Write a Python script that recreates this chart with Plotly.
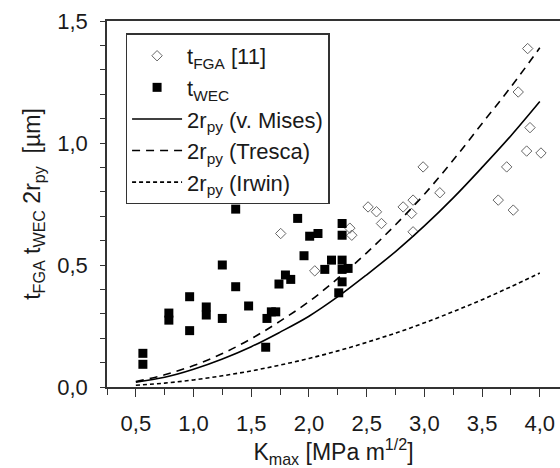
import plotly.graph_objects as go

# ---- data ----
fga_k = [3.895, 3.813, 3.915, 3.886, 4.010, 3.713, 2.989, 3.134, 3.640, 3.770,
         2.512, 2.585, 2.628, 2.816, 2.902, 2.889, 2.902, 2.354, 2.371, 2.050, 1.755]
fga_t = [1.387, 1.209, 1.063, 0.967, 0.959, 0.902, 0.902, 0.796, 0.766, 0.725,
         0.738, 0.718, 0.670, 0.738, 0.766, 0.711, 0.636, 0.651, 0.622, 0.476, 0.629]

wec_k = [0.561, 0.561, 0.786, 0.786, 0.966, 0.966, 1.11, 1.11, 1.249, 1.249,
         1.365, 1.365, 1.477, 1.625, 1.636, 1.674, 1.712, 1.740, 1.796, 1.842,
         1.902, 1.957, 2.006, 2.078, 2.137, 2.195, 2.287, 2.287, 2.287, 2.287,
         2.339, 2.287, 2.258]
wec_t = [0.138, 0.093, 0.303, 0.274, 0.370, 0.231, 0.328, 0.295, 0.500, 0.281,
         0.729, 0.411, 0.332, 0.163, 0.281, 0.308, 0.308, 0.422, 0.459, 0.441,
         0.691, 0.538, 0.618, 0.629, 0.482, 0.520, 0.670, 0.622, 0.520, 0.482,
         0.486, 0.431, 0.386]

k_curve = [0.5, 0.75, 1.0, 1.25, 1.5, 1.75, 2.0, 2.25, 2.5, 2.75, 3.0, 3.25, 3.5, 3.75, 4.0]
mises = [0.02, 0.04, 0.073, 0.115, 0.165, 0.225, 0.29, 0.37, 0.46, 0.555, 0.66, 0.775, 0.90, 1.03, 1.17]
tresca = [0.022, 0.05, 0.088, 0.137, 0.198, 0.27, 0.35, 0.445, 0.55, 0.665, 0.79, 0.93, 1.08, 1.23, 1.39]
irwin = [0.007, 0.016, 0.029, 0.046, 0.066, 0.09, 0.117, 0.148, 0.183, 0.221, 0.263, 0.309, 0.358, 0.411, 0.467]

FONT = "Liberation Sans, Arial, sans-serif"
INK = "#1a1a1a"

fig = go.Figure()
fig.add_trace(go.Scatter(x=fga_k, y=fga_t, mode="markers", name="t<sub>FGA</sub> [11]",
                         marker=dict(symbol="diamond-open", size=8, color="#666666",
                                     line=dict(width=1, color="#666666"))))
fig.add_trace(go.Scatter(x=wec_k, y=wec_t, mode="markers", name="t<sub>WEC</sub>",
                         marker=dict(symbol="square", size=9, color="black")))
fig.add_trace(go.Scatter(x=k_curve, y=mises, mode="lines", name="2r<sub>py</sub> (v. Mises)",
                         line=dict(color="black", width=1.6, shape="spline")))
fig.add_trace(go.Scatter(x=k_curve, y=tresca, mode="lines", name="2r<sub>py</sub> (Tresca)",
                         line=dict(color="black", width=1.6, dash="8px,6px", shape="spline")))
fig.add_trace(go.Scatter(x=k_curve, y=irwin, mode="lines", name="2r<sub>py</sub> (Irwin)",
                         line=dict(color="black", width=1.6, dash="4px,3px", shape="spline")))

fig.update_layout(
    width=560, height=468,
    margin=dict(l=107, r=0, t=21, b=81),
    paper_bgcolor="white", plot_bgcolor="white",
    separators=",.",
    font=dict(family=FONT, size=22, color=INK),
    showlegend=True,
    legend=dict(x=0.041, y=0.966, xanchor="left", yanchor="top",
                bordercolor="#333333", borderwidth=1.5, bgcolor="white",
                font=dict(size=22, color=INK), itemwidth=50, tracegroupgap=0),
)
fig.update_xaxes(
    range=[0.25, 4.175], showgrid=False, zeroline=False,
    showline=True, linecolor="#333333", linewidth=1.5, mirror=True,
    tickmode="linear", tick0=0.5, dtick=0.5, tickformat=".1f",
    ticks="outside", ticklen=8, tickwidth=1.3, tickcolor="#333333",
    minor=dict(tickmode="linear", tick0=0.25, dtick=0.25, ticks="outside", ticklen=6,
               tickwidth=1.3, tickcolor="#333333"),
    tickfont=dict(size=22), ticklabelstandoff=8,
    title=dict(text="K<sub>max</sub> [MPa m<sup>1/2</sup>]", font=dict(size=23), standoff=10),
)
fig.update_yaxes(
    range=[0, 1.5], showgrid=False, zeroline=False,
    showline=True, linecolor="#333333", linewidth=1.5, mirror=False,
    tickmode="linear", tick0=0, dtick=0.5, tickformat=".1f",
    ticks="outside", ticklen=5, tickwidth=1.3, tickcolor="#333333",
    minor=dict(tickmode="linear", tick0=0, dtick=0.1, ticks="outside", ticklen=5,
               tickwidth=1.3, tickcolor="#333333"),
    tickfont=dict(size=22), ticklabelstandoff=8,
    title=dict(text="t<sub>FGA</sub> t<sub>WEC</sub> 2r<sub>py</sub>  [µm]", font=dict(size=23), standoff=10),
)

fig.write_html("out.html", config={"displayModeBar": False},
               post_script="document.body.style.margin='0';")
